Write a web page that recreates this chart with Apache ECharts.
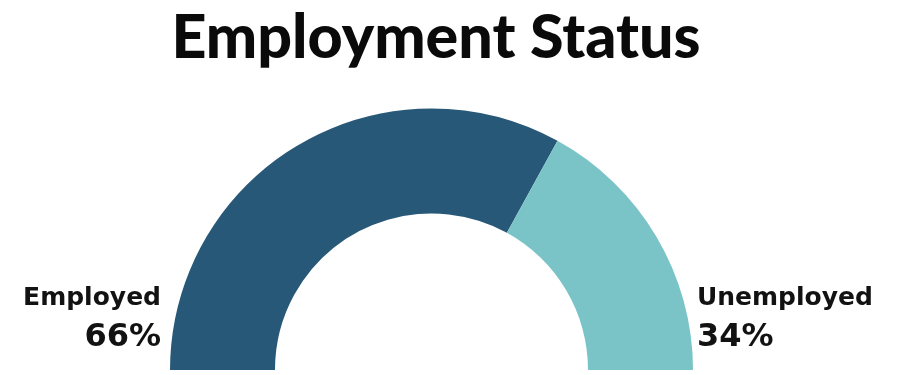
<!DOCTYPE html>
<html>
<head>
<meta charset="utf-8">
<script src="https://cdn.jsdelivr.net/npm/echarts@6/dist/echarts.min.js"></script>
<style>
  html, body { margin: 0; padding: 0; background: #ffffff; }
  #chart { width: 897px; height: 375px; }
</style>
</head>
<body>
<div id="chart"></div>
<script>
// Employment breakdown shown as a half-donut
const categories = ['Employed', 'Unemployed'];
const shares = [66, 34];
const sliceColors = ['#285878', '#7AC4C7'];

const chart = echarts.init(document.getElementById('chart'), null, { renderer: 'canvas' });

const pieData = categories.map((name, i) => ({
  name: name,
  value: shares[i],
  itemStyle: { color: sliceColors[i] }
}));

chart.setOption({
  animation: false,
  backgroundColor: '#ffffff',
  title: {
    text: 'Employment Status',
    left: 431,
    textAlign: 'center',
    top: 3,
    textStyle: {
      fontFamily: 'Lato',
      fontWeight: 900,
      fontSize: 61,
      color: '#0a0a0a'
    }
  },
  series: [{
    type: 'pie',
    center: [431.5, 370],
    radius: [156.5, 261.5],
    startAngle: 180,
    endAngle: 0,
    clockwise: true,
    silent: true,
    data: pieData,
    labelLine: { show: false },
    label: {
      show: true,
      position: 'outside',
      formatter: p => '{name|' + p.name + '}\n{pct|' + p.value + '%}',
      rich: {
        name: {
          fontFamily: 'DejaVu Sans',
          fontWeight: 'bold',
          fontSize: 25,
          lineHeight: 40,
          color: '#121212'
        },
        pct: {
          fontFamily: 'DejaVu Sans',
          fontWeight: 'bold',
          fontSize: 32,
          lineHeight: 40,
          color: '#121212'
        }
      }
    },
    labelLayout: params => {
      const left = params.dataIndex === 0;
      return {
        x: left ? 161 : 697,
        y: 318,
        align: left ? 'right' : 'left',
        verticalAlign: 'middle'
      };
    }
  }]
});
</script>
</body>
</html>
